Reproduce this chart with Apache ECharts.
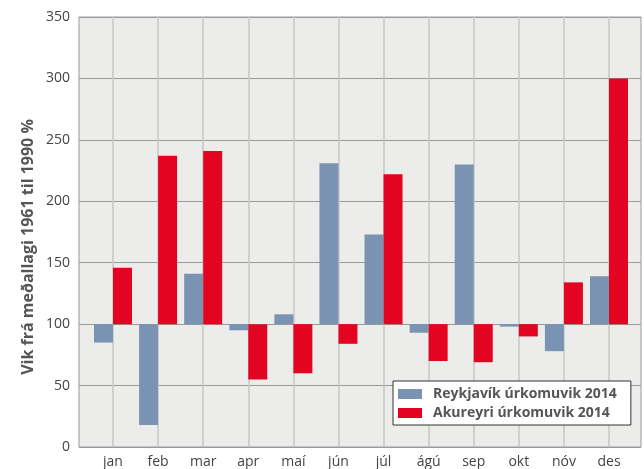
<!DOCTYPE html>
<html>
<head>
<meta charset="utf-8">
<script src="https://cdn.jsdelivr.net/npm/echarts@6/dist/echarts.min.js"></script>
<style>
  html, body { margin: 0; padding: 0; background: #fff; }
  #chart { width: 644px; height: 469px; }
</style>
</head>
<body>
<div id="chart"></div>
<script>
// mánuðir
var months = ["jan", "feb", "mar", "apr", "maí", "jún", "júl", "ágú", "sep", "okt", "nóv", "des"];
// úrkoma sem % af meðallagi 1961-1990
var reykjavik = [85, 18, 141, 95, 108, 231, 173, 93, 230, 98, 78, 139];
var akureyri = [146, 237, 241, 55, 60, 84, 222, 70, 69, 90, 134, 300];
var yTicks = [0, 50, 100, 150, 200, 250, 300, 350];

var BASE = 100; // súlur byrja við 100 %

var myChart = echarts.init(document.getElementById("chart"));

function rel(arr) {
  return arr.map(function (v) { return v - BASE; });
}

var option = {
  animation: false,
  textStyle: { fontFamily: "Open Sans" },
  grid: [
    // bakgrunnur og láréttar línur
    {
      left: 79, right: 3, top: 17, bottom: 22,
      show: true,
      backgroundColor: "#ecedeb",
      borderColor: "#9a9a9a",
      borderWidth: 1
    },
    // súlur og lóðréttar línur
    { left: 113, right: 35, top: 17, bottom: 22 }
  ],
  graphic: [
    {
      type: "text",
      x: 28,
      y: 247,
      rotation: Math.PI / 2,
      style: {
        text: "Vik frá meðallagi 1961 til 1990 %",
        fill: "#555",
        font: "bold 16px 'Open Sans'",
        align: "center",
        verticalAlign: "middle"
      }
    }
  ],
  xAxis: [
    {
      gridIndex: 0, type: "value", min: 0, max: 1,
      show: false
    },
    {
      gridIndex: 1,
      type: "category",
      boundaryGap: false,
      data: months,
      axisLine: { show: false },
      axisTick: { show: false },
      axisLabel: { color: "#444", fontSize: 14, margin: 8 },
      splitLine: { show: true, lineStyle: { color: "#c6c7c5", width: 1.5 } }
    }
  ],
  yAxis: [
    {
      gridIndex: 0,
      type: "value",
      min: yTicks[0] - BASE,
      max: yTicks[yTicks.length - 1] - BASE,
      interval: 50,
      axisLine: { show: false },
      axisTick: { show: false },
      axisLabel: {
        color: "#444", fontSize: 14, margin: 9,
        formatter: function (v) { return v + BASE; }
      },
      splitLine: { lineStyle: { color: "#9a9a9a", width: 1.2 } }
    },
    {
      gridIndex: 1,
      type: "value",
      min: yTicks[0] - BASE,
      max: yTicks[yTicks.length - 1] - BASE,
      interval: 50,
      show: false,
      splitLine: { show: false }
    }
  ],
  legend: {
    orient: "vertical",
    left: 393,
    top: 381,
    backgroundColor: "#fff",
    borderColor: "#333",
    borderWidth: 1,
    padding: [6, 14, 5, 5],
    itemWidth: 24,
    itemHeight: 10,
    itemGap: 5,
    icon: "rect",
    textStyle: {
      color: "#555", fontSize: 14, fontWeight: "bold",
      lineHeight: 14, padding: [0, 0, 0, 6]
    },
    data: ["Reykjavík úrkomuvik 2014", "Akureyri úrkomuvik 2014"]
  },
  series: [
    {
      name: "Reykjavík úrkomuvik 2014",
      type: "bar",
      xAxisIndex: 1,
      yAxisIndex: 1,
      data: rel(reykjavik),
      barWidth: 19,
      barGap: "0%",
      clip: false,
      itemStyle: { color: "#7a93b2" }
    },
    {
      name: "Akureyri úrkomuvik 2014",
      type: "bar",
      xAxisIndex: 1,
      yAxisIndex: 1,
      data: rel(akureyri),
      barWidth: 19,
      barGap: "0%",
      clip: false,
      itemStyle: { color: "#e30422" }
    }
  ]
};

myChart.setOption(option);
window.addEventListener("resize", function () {
  myChart.resize();
});
</script>
</body>
</html>
